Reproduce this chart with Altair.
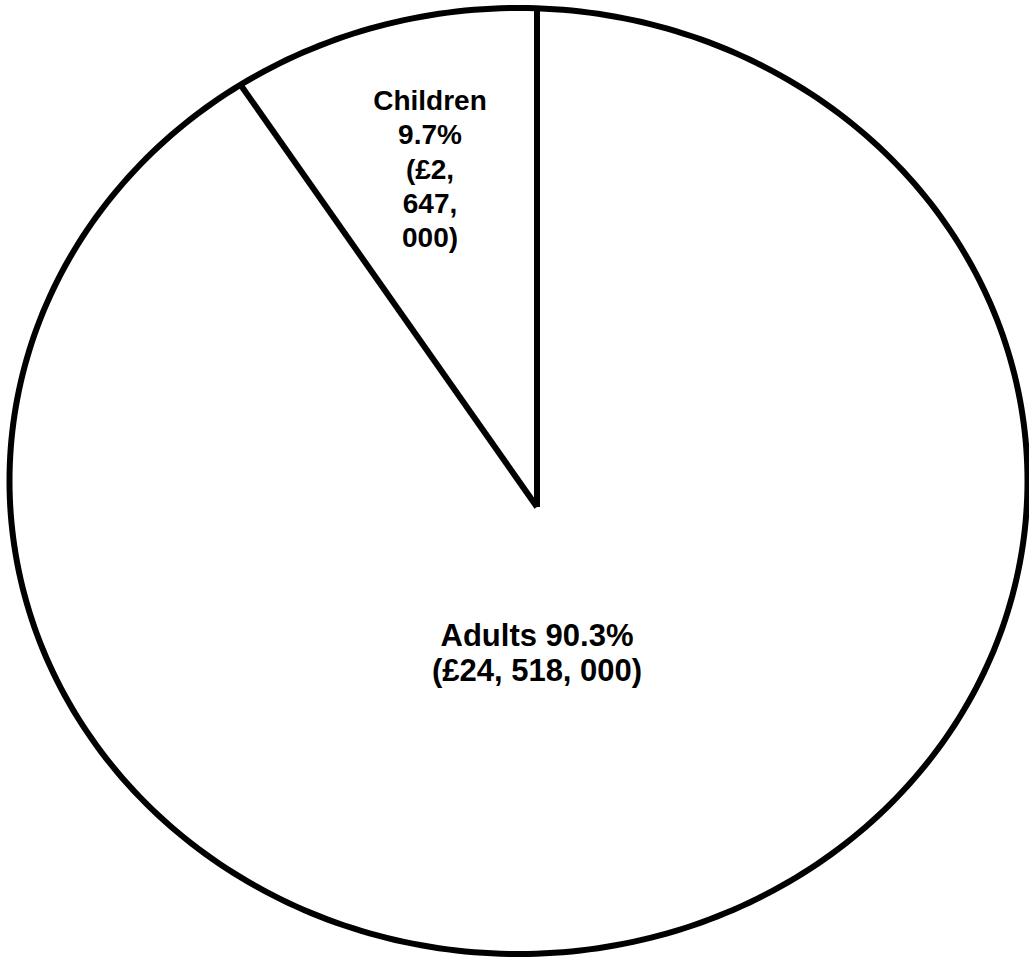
import math

import altair as alt
import pandas as pd

# Spending split between the two groups
categories = ["Children", "Adults"]
amounts = [2647000, 24518000]
label_lines = [
    ["Children", "9.7%", "(£2,", "647,", "000)"],
    ["Adults 90.3%", "(£24, 518, 000)"],
]

# Layout of the (slightly oval) pie, in canvas units
W, H = 1029, 958
CX, CY = 518.5, 481.0      # centre of the outline
RX, RY = 509.0, 473.0      # semi-axes of the outline
HX, HY = 537.0, 507.0      # point where the slice edges meet
OUTLINE_W = 6
EDGE_W = 6
FONT = "Liberation Sans"
font_sizes = {"Children": 28, "Adults": 31}
line_heights = {"Children": 34.3, "Adults": 35.0}
# label anchor: (angle from 12 o'clock, counter-clockwise, in degrees or None = slice middle, distance from hub)
label_anchor = {"Children": (None, 355.0), "Adults": (180.0, 145.0)}

total = sum(amounts)
shares = [a / total for a in amounts]


def direction(deg):
    r = math.radians(deg)
    return -math.sin(r), -math.cos(r)


def edge_point(deg):
    """Where a ray from the hub meets the outline."""
    dx, dy = direction(deg)
    ox, oy = (HX - CX) / RX, (HY - CY) / RY
    ux, uy = dx / RX, dy / RY
    a = ux * ux + uy * uy
    b = 2 * (ox * ux + oy * uy)
    c = ox * ox + oy * oy - 1
    s = (-b + math.sqrt(b * b - 4 * a * c)) / (2 * a)
    return HX + s * dx, HY + s * dy


# outline of the pie
outline = pd.DataFrame(
    [
        {"i": k, "x": CX + RX * math.sin(math.radians(k)), "y": CY - RY * math.cos(math.radians(k))}
        for k in range(0, 361)
    ]
)

# slice edges at the cumulative share boundaries
start_angles = []
acc = 0.0
for s in shares:
    start_angles.append(acc * 360.0)
    acc += s
edges = []
for ang in start_angles:
    ex, ey = edge_point(ang)
    edges.append({"x": HX, "y": HY, "x2": ex, "y2": ey})
edges = pd.DataFrame(edges)

# labels
rows = []
for cat, share, start, lines in zip(categories, shares, start_angles, label_lines):
    ang, dist = label_anchor[cat]
    if ang is None:
        ang = start + share * 180.0
    dx, dy = direction(ang)
    ax, ay = HX + dist * dx, HY + dist * dy
    n = len(lines)
    fs = font_sizes[cat]
    lh = line_heights[cat]
    for k, t in enumerate(lines):
        rows.append({"cat": cat, "text": t, "x": ax, "y": ay + (k - (n - 1) / 2) * lh, "fs": fs})
labels = pd.DataFrame(rows)

xs = alt.Scale(domain=[0, W], nice=False, zero=False)
ys = alt.Scale(domain=[0, H], nice=False, zero=False, reverse=True)

ring = alt.Chart(outline).mark_line(
    color="black", strokeWidth=OUTLINE_W, strokeJoin="round"
).encode(
    x=alt.X("x:Q", scale=xs, axis=None),
    y=alt.Y("y:Q", scale=ys, axis=None),
    order="i:Q",
)

spokes = alt.Chart(edges).mark_rule(color="black", strokeWidth=EDGE_W).encode(
    x=alt.X("x:Q", scale=xs, axis=None),
    y=alt.Y("y:Q", scale=ys, axis=None),
    x2="x2:Q",
    y2="y2:Q",
)

text_layers = []
for cat in categories:
    fs = font_sizes[cat]
    text_layers.append(
        alt.Chart(labels[labels["cat"] == cat]).mark_text(
            font=FONT, fontWeight="bold", fontSize=fs, color="black",
            align="center", baseline="alphabetic", dy=round(0.36 * fs),
        ).encode(
            x=alt.X("x:Q", scale=xs, axis=None),
            y=alt.Y("y:Q", scale=ys, axis=None),
            text="text:N",
        )
    )

chart = alt.layer(ring, spokes, *text_layers).properties(
    width=W, height=H, padding=0, autosize=alt.AutoSizeParams(type="none"),
    background="white",
).configure_view(stroke=None)

chart.save("out.html", embed_options={"renderer": "svg", "actions": False})
